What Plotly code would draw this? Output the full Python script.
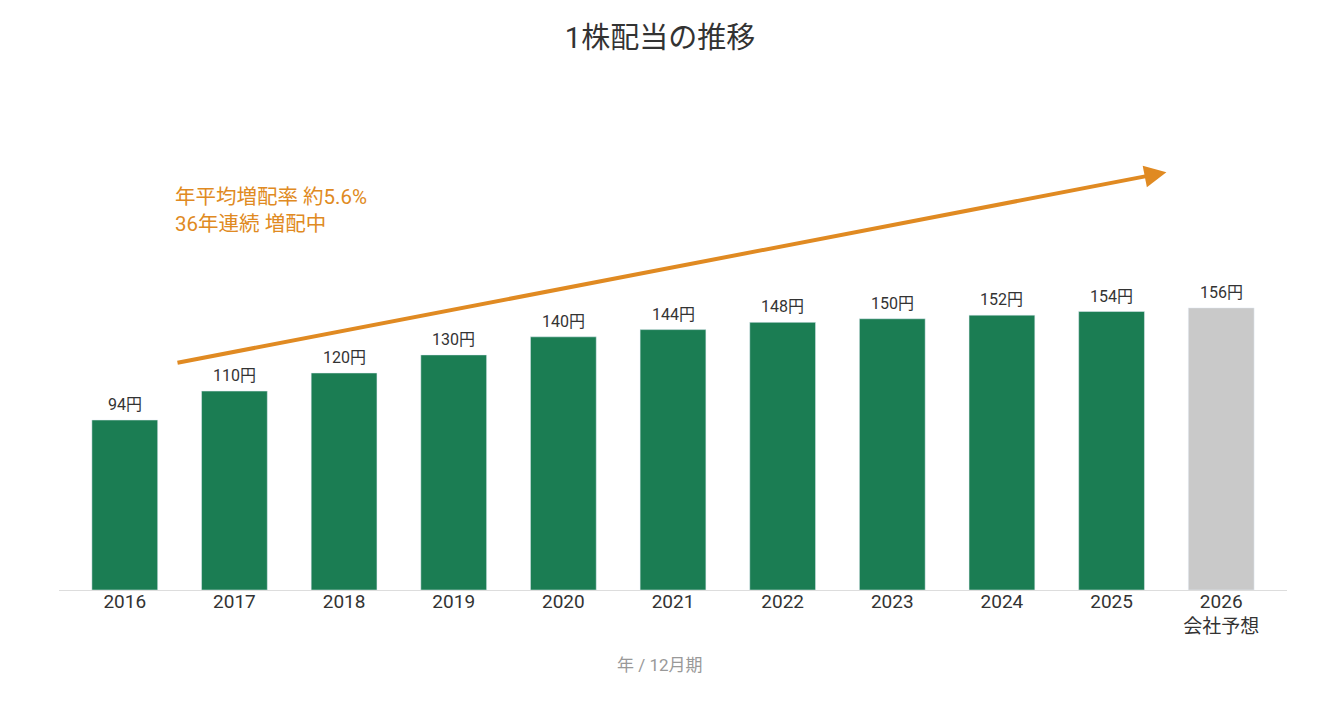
import plotly.graph_objects as go

years = ["2016", "2017", "2018", "2019", "2020", "2021", "2022", "2023", "2024", "2025", "2026"]
tick_text = ["2016", "2017", "2018", "2019", "2020", "2021", "2022", "2023", "2024", "2025", "2026<br>会社予想"]
dividends = [94, 110, 120, 130, 140, 144, 148, 150, 152, 154, 156]
is_forecast = [False] * 10 + [True]

GREEN = "#1B7D53"
GREY = "#C9C9C9"
ORANGE = "#E08A22"
FONT = "Roboto, Noto Sans CJK JP"

colors = [GREY if f else GREEN for f in is_forecast]
xs = list(range(len(years)))

fig = go.Figure()
fig.add_trace(go.Bar(
    x=xs, y=dividends, marker_color=colors, width=0.6,
    cliponaxis=False, hoverinfo="skip",
))

# value labels above bars
for xi, v in zip(xs, dividends):
    fig.add_annotation(
        x=xi, y=v, xref="x", yref="y", yanchor="bottom", yshift=4,
        text=f"{v}円", showarrow=False,
        font=dict(size=16, color="#333333", family=FONT),
    )

# trend arrow
fig.add_annotation(
    x=9.5, y=231, ax=0.467, ay=125.5, xref="x", yref="y", axref="x", ayref="y",
    text="", showarrow=True, arrowhead=2, arrowsize=1.1, arrowwidth=4, arrowcolor=ORANGE,
)
fig.add_annotation(
    x=0.44, y=225, xref="x", yref="y", xanchor="left", yanchor="top", align="left",
    text="年平均増配率 約5.6%<br>36年連続 増配中", showarrow=False,
    font=dict(size=20.5, color=ORANGE, family=FONT),
)

# axis caption, centred on the page
fig.add_annotation(
    x=(660 - 59) / 1228, y=-(665 - 590) / 434, xref="paper", yref="paper", yanchor="middle",
    text="年 / 12月期", showarrow=False,
    font=dict(size=17, color="#999999", family=FONT),
)

fig.update_layout(
    width=1320, height=720,
    margin=dict(l=59, r=33, t=156, b=130),
    paper_bgcolor="white", plot_bgcolor="white",
    font=dict(family=FONT, color="#333333"),
    title=dict(text="1株配当の推移", x=0.5, xanchor="center", y=0.948, yanchor="middle",
               font=dict(size=29, color="#333333", family=FONT)),
    showlegend=False,
    bargap=0.4,
)
fig.update_xaxes(
    range=[-0.6, 10.6], tickmode="array", tickvals=xs, ticktext=tick_text,
    showline=True, linecolor="#DDDDDD", linewidth=1, showgrid=False, zeroline=False,
    ticks="", ticklabelstandoff=-6, tickfont=dict(size=19, color="#333333", family=FONT),
)
fig.update_yaxes(range=[0, 240], visible=False, showgrid=False)

fig.write_html("out.html")
